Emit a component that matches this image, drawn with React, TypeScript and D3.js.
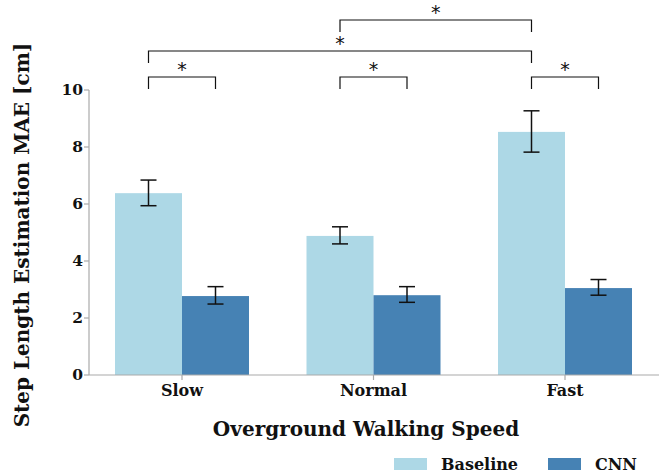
import React from "react";
import * as d3 from "d3";

const categories = ["Slow", "Normal", "Fast"];
const series = ["Baseline", "CNN"];
const baselineValues = [6.38, 4.88, 8.53];
const baselineErrLow = [5.94, 4.6, 7.82];
const baselineErrHigh = [6.84, 5.2, 9.27];
const cnnValues = [2.77, 2.8, 3.05];
const cnnErrLow = [2.49, 2.55, 2.8];
const cnnErrHigh = [3.1, 3.1, 3.35];
const yTicks = [0, 2, 4, 6, 8, 10];
const colors = ["#add8e6", "#4682b4"];
// significance brackets: [catA, seriesA, catB, seriesB, level]
const brackets: [number, number, number, number, number][] = [
  [0, 0, 0, 1, 0],
  [1, 0, 1, 1, 0],
  [2, 0, 2, 1, 0],
  [0, 0, 2, 0, 1],
  [1, 0, 2, 0, 2],
];

const FONT = "'DejaVu Serif', serif";

export default function App() {
  const W = 664, H = 475;
  const x = d3.scaleBand().domain(categories).range([86.25, 660.75]).padding(0);
  const xs = d3.scaleBand().domain(series).range([28.75, 162.75]).padding(0);
  const y = d3.scaleLinear().domain([0, 10]).range([375, 90]);
  const vals = [baselineValues, cnnValues];
  const lo = [baselineErrLow, cnnErrLow];
  const hi = [baselineErrHigh, cnnErrHigh];
  const barCenter = (c: number, s: number) =>
    (x(categories[c]) as number) + (xs(series[s]) as number) + xs.bandwidth() / 2;
  const levelY = [77, 51, 20];
  const axisColor = "#aaaaaa";
  return (
    <svg width={W} height={H} style={{ position: "absolute", left: 0, top: 0 }}>
      <rect width={W} height={H} fill="white" />
      {categories.map((c, ci) =>
        series.map((s, si) => (
          <rect
            key={c + s}
            x={(x(c) as number) + (xs(s) as number)}
            y={y(vals[si][ci])}
            width={xs.bandwidth()}
            height={y(0) - y(vals[si][ci])}
            fill={colors[si]}
          />
        ))
      )}
      {categories.map((c, ci) =>
        series.map((s, si) => {
          const cx = barCenter(ci, si);
          return (
            <g key={"e" + c + s} stroke="#111" strokeWidth={1.5}>
              <line x1={cx} x2={cx} y1={y(lo[si][ci])} y2={y(hi[si][ci])} />
              <line x1={cx - 8} x2={cx + 8} y1={y(lo[si][ci])} y2={y(lo[si][ci])} />
              <line x1={cx - 8} x2={cx + 8} y1={y(hi[si][ci])} y2={y(hi[si][ci])} />
            </g>
          );
        })
      )}
      {/* axes */}
      <line x1={89} x2={659} y1={y(0)} y2={y(0)} stroke={axisColor} strokeWidth={1.2} />
      <line x1={89} x2={89} y1={y(0)} y2={y(10)} stroke={axisColor} strokeWidth={1.2} />
      {yTicks.map((t) => (
        <g key={"yt" + t}>
          <line x1={84} x2={89} y1={y(t)} y2={y(t)} stroke={axisColor} strokeWidth={1.2} />
          <text
            x={83}
            y={y(t)}
            dy="0.35em"
            textAnchor="end"
            fontFamily={FONT}
            fontWeight="bold"
            fontSize={15.5}
            fill="#111"
          >
            {t}
          </text>
        </g>
      ))}
      {categories.map((c) => {
        const cx = (x(c) as number) + x.bandwidth() / 2;
        return (
          <g key={"xt" + c}>
            <line x1={cx} x2={cx} y1={y(0)} y2={y(0) + 5} stroke={axisColor} strokeWidth={1.2} />
            <text
              x={cx}
              y={396}
              textAnchor="middle"
              fontFamily={FONT}
              fontWeight="bold"
              fontSize={16}
              fill="#111"
            >
              {c}
            </text>
          </g>
        );
      })}
      <text
        x={366}
        y={436}
        textAnchor="middle"
        fontFamily={FONT}
        fontWeight="bold"
        fontSize={20}
        fill="#111"
      >
        Overground Walking Speed
      </text>
      <text
        transform="translate(29,235) rotate(-90)"
        textAnchor="middle"
        fontFamily={FONT}
        fontWeight="bold"
        fontSize={20}
        fill="#111"
      >
        Step Length Estimation MAE [cm]
      </text>
      {/* significance brackets */}
      {brackets.map(([ca, sa, cb, sb, lv], i) => {
        const x1 = barCenter(ca, sa);
        const x2 = barCenter(cb, sb);
        const yy = levelY[lv];
        return (
          <g key={"b" + i}>
            <path
              d={`M${x1},${yy + 12}V${yy}H${x2}V${yy + 12}`}
              fill="none"
              stroke="#111"
              strokeWidth={1.2}
            />
            <text
              x={(x1 + x2) / 2}
              y={yy - 1}
              textAnchor="middle"
              fontFamily="'DejaVu Sans', sans-serif"
              fontSize={19}
              fill="#111"
            >
              *
            </text>
          </g>
        );
      })}
      {/* legend */}
      {series.map((s, si) => {
        const lx = [394, 548][si];
        return (
          <g key={"l" + s}>
            <rect x={lx} y={458} width={33} height={12} fill={colors[si]} />
            <text
              x={lx + 47}
              y={470}
              fontFamily={FONT}
              fontWeight="bold"
              fontSize={16}
              fill="#111"
            >
              {s}
            </text>
          </g>
        );
      })}
    </svg>
  );
}
